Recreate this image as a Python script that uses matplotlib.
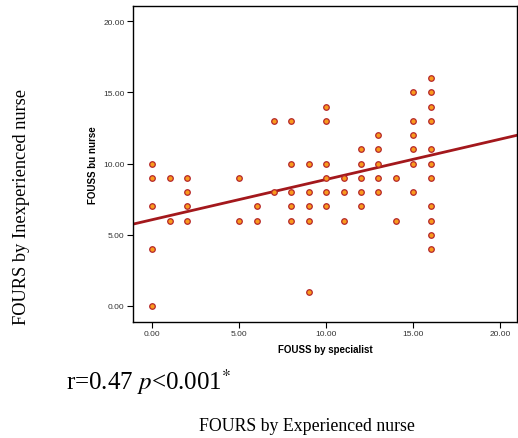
import numpy as np
import matplotlib
matplotlib.use("Agg")
import matplotlib.pyplot as plt

# FOUSS by specialist (x) vs FOUSS by nurse (y), one entry per distinct point
specialist = [0, 0, 0, 0, 0,
              1, 1,
              2, 2, 2, 2,
              5, 5,
              6, 6,
              7, 7,
              8, 8, 8, 8, 8,
              9, 9, 9, 9, 9,
              10, 10, 10, 10, 10, 10,
              11, 11, 11,
              12, 12, 12, 12, 12,
              13, 13, 13, 13, 13,
              14, 14,
              15, 15, 15, 15, 15, 15,
              16, 16, 16, 16, 16, 16, 16, 16, 16, 16, 16]
nurse = [10, 9, 7, 4, 0,
         9, 6,
         9, 8, 7, 6,
         9, 6,
         7, 6,
         13, 8,
         13, 10, 8, 7, 6,
         10, 8, 7, 6, 1,
         14, 13, 10, 9, 8, 7,
         9, 8, 6,
         11, 10, 9, 8, 7,
         12, 11, 10, 9, 8,
         9, 6,
         15, 13, 12, 11, 10, 8,
         16, 15, 14, 13, 11, 10, 9, 7, 6, 5, 4]

# fit line
fit_intercept = 6.06
fit_slope = 0.283

xticks = [0, 5, 10, 15, 20]
yticks = [0, 5, 10, 15, 20]

plt.rcParams['font.family'] = ['Liberation Sans', 'DejaVu Sans']

fig = plt.figure(figsize=(5.18, 4.39), dpi=100)
ax = fig.add_axes([0.2568, 0.2642, 0.7412, 0.719])

xmin, xmax = -1.1, 20.96
ax.set_xlim(xmin, xmax)
ax.set_ylim(-1.13, 21.05)

xs = np.array([xmin, xmax])
ax.plot(xs, fit_intercept + fit_slope * xs, color='#a3181c', lw=2, zorder=2)
ax.scatter(specialist, nurse, s=16, c='#f99a1c', edgecolors='#b5262a',
           linewidths=0.9, zorder=3)

ax.set_xticks(xticks)
ax.set_yticks(yticks)
ax.set_xticklabels(['%.2f' % v for v in xticks])
ax.set_yticklabels(['%.2f' % v for v in yticks])
ax.tick_params(labelsize=6, length=4, width=0.8, pad=2, colors='black',
               labelcolor='#333333')
for s in ax.spines.values():
    s.set_linewidth(1.0)

ax.set_xlabel('FOUSS by specialist', fontsize=7, fontweight='bold', labelpad=5)
ax.set_ylabel('FOUSS bu nurse', fontsize=7, fontweight='bold', labelpad=4)

serif = ['Liberation Serif', 'DejaVu Serif']
fig.text(22 / 518, 1 - 207 / 439, 'FOURS by Inexperienced nurse', rotation=90,
         ha='center', va='center', fontsize=13.2, family=serif)
fig.text(66 / 518, 1 - 382 / 439, r'r=0.47 $\it{p}$<0.001$^{*}$',
         ha='left', va='center', fontsize=18, family=serif,
         math_fontfamily='stix')
fig.text(307 / 518, 1 - 427 / 439, 'FOURS by Experienced nurse',
         ha='center', va='center', fontsize=12.8, family=serif)

fig.savefig('out.png', dpi=100)
